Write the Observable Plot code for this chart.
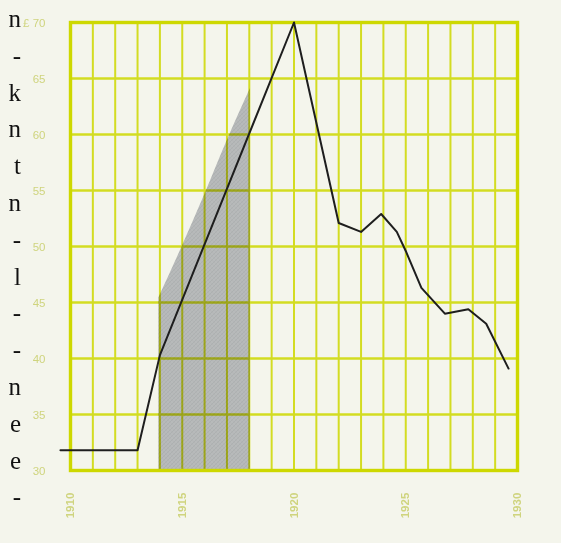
<!DOCTYPE html>
<html>
<head>
<meta charset="utf-8">
<script src="https://cdn.jsdelivr.net/npm/d3@7"></script>
<script src="https://cdn.jsdelivr.net/npm/@observablehq/plot@0.6"></script>
<style>
  html, body { margin: 0; padding: 0; background: #f4f5ec; }
  #wrap { position: relative; width: 561px; height: 543px; overflow: hidden; }
  #chart { position: absolute; left: 0; top: 0; }
  #margin-text {
    position: absolute; left: 0; top: 1px; width: 21px;
    font-family: "Liberation Serif", "DejaVu Serif", serif;
    font-size: 25px; line-height: 36.8px; text-align: right; color: #111;
    white-space: pre;
  }
</style>
</head>
<body>
<div id="wrap">
  <div id="chart"></div>
  <div id="margin-text"></div>
</div>
<script>
// ---- data ----
const lineYears  = [1909.55, 1913, 1914, 1920, 1922, 1923, 1923.9, 1924.6, 1925, 1925.7, 1926.75, 1927.8, 1928.6, 1929.6];
const lineValues = [31.8, 31.8, 40.3, 70, 52.1, 51.3, 52.9, 51.3, 49.6, 46.3, 44.0, 44.4, 43.1, 39.1];

const bandYears  = [1913.95, 1915, 1916, 1917, 1918.05];
const bandTop    = [45.4, 50.0, 54.6, 59.4, 64.1];
const bandBase   = 30;

const xTickValues = [1910, 1915, 1920, 1925, 1930];
const xTickLabels = ["1910", "1915", "1920", "1925", "1930"];
const yTickValues = [30, 35, 40, 45, 50, 55, 60, 65, 70];
const yTickLabels = ["30", "35", "40", "45", "50", "55", "60", "65", "£ 70"];

const marginLetters = ["n", "-", "k", "n", "t", "n", "-", "l", "-", "-", "n", "e", "e", "-"];

// ---- tables built from the arrays ----
const lineData = lineYears.map((x, i) => ({x, y: lineValues[i]}));
const bandData = bandYears.map((x, i) => ({x, y1: bandBase, y2: bandTop[i]}));
const xTicks = xTickValues.map((v, i) => ({v, label: xTickLabels[i]}));
const yTicks = yTickValues.map((v, i) => ({v, label: yTickLabels[i]}));
const gridYears = d3.range(1911, 1930);
const gridValues = yTickValues.slice(1, -1);

const grid = "#d3dc22";
const labelColor = "#cfd47e";

const chart = Plot.plot({
  width: 561,
  height: 543,
  marginLeft: 70,
  marginRight: 44,
  marginTop: 22,
  marginBottom: 73,
  style: {background: "transparent", fontFamily: "'Liberation Sans', Arial, sans-serif", overflow: "visible"},
  x: {domain: [1910, 1930], axis: null},
  y: {domain: [30, 70], axis: null},
  marks: [
    Plot.ruleX(gridYears, {x: d => d, stroke: grid, strokeWidth: 2}),
    Plot.ruleY(gridValues, {y: d => d, stroke: grid, strokeWidth: 2.4}),
    Plot.areaY(bandData, {x: "x", y1: "y1", y2: "y2", fill: "url(#hatch)", mixBlendMode: "multiply", curve: "monotone-x"}),
    Plot.frame({stroke: "#cdd800", strokeWidth: 3.4}),
    Plot.line(lineData, {x: "x", y: "y", stroke: "#1e1e1e", strokeWidth: 2, strokeLinejoin: "round"}),
    Plot.text(yTicks, {x: 1910, y: "v", text: "label", dx: -25, dy: 1, textAnchor: "end", fill: labelColor, fontSize: 11.5}),
    Plot.text(xTicks, {x: "v", y: 30, text: "label", dy: 35, rotate: -90, textAnchor: "middle", fill: labelColor, fontSize: 11.5, fontWeight: "bold"})
  ]
});

// pattern definition for the shaded band
const ns = "http://www.w3.org/2000/svg";
const defs = document.createElementNS(ns, "defs");
defs.innerHTML = `
  <pattern id="hatch" patternUnits="userSpaceOnUse" width="4" height="4">
    <rect width="4" height="4" fill="#c0c2c9"/>
    <path d="M0,4 L4,0 M-1,1 L1,-1 M3,5 L5,3" stroke="#b3b5bd" stroke-width="0.8"/>
    <path d="M0,0 L4,4" stroke="#b9bbc2" stroke-width="0.6"/>
  </pattern>`;
chart.insertBefore(defs, chart.firstChild);

document.getElementById("chart").appendChild(chart);
document.getElementById("margin-text").textContent = marginLetters.join("\n");
</script>
</body>
</html>
